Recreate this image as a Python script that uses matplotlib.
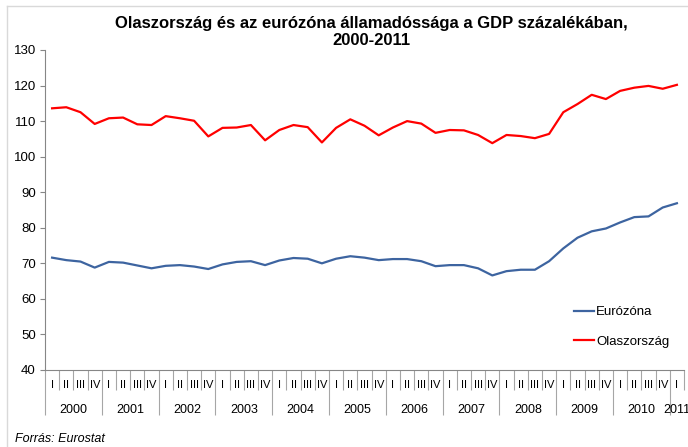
import numpy as np
import matplotlib.pyplot as plt
from matplotlib.lines import Line2D
from matplotlib.transforms import blended_transform_factory

# Államadósság a GDP százalékában, negyedévente, 2000 I - 2011 I
years = [str(y) for y in range(2000, 2012)]
quarters = ['I', 'II', 'III', 'IV']

eurozona = [71.6, 70.9, 70.5, 68.8, 70.4, 70.2, 69.4, 68.6,
            69.3, 69.5, 69.1, 68.4, 69.7, 70.4, 70.6, 69.5,
            70.8, 71.5, 71.3, 70.0, 71.3, 72.0, 71.6, 70.9,
            71.2, 71.2, 70.6, 69.2, 69.5, 69.5, 68.6, 66.6,
            67.8, 68.2, 68.2, 70.6, 74.2, 77.2, 79.0, 79.8,
            81.5, 83.0, 83.2, 85.7, 86.9]
olaszorszag = [113.6, 113.9, 112.5, 109.2, 110.8, 111.0, 109.1, 108.9,
               111.4, 110.8, 110.1, 105.7, 108.1, 108.2, 108.9, 104.6,
               107.5, 108.9, 108.3, 104.0, 108.1, 110.5, 108.7, 106.0,
               108.2, 110.0, 109.3, 106.7, 107.5, 107.4, 106.1, 103.8,
               106.1, 105.8, 105.2, 106.4, 112.5, 114.8, 117.4, 116.2,
               118.5, 119.4, 119.9, 119.1, 120.2]

plt.rcParams['font.family'] = ['Liberation Sans', 'DejaVu Sans']

fig = plt.figure(figsize=(6.88, 4.47), dpi=100)
ax = fig.add_axes([45/688, 1-370/447, 639/688, 320/447])

n = len(eurozona)
x = np.arange(n)
blue = '#3d64a0'
red = '#ff0000'
ax.plot(x, eurozona, color=blue, lw=1.6, label='Eurózóna')
ax.plot(x, olaszorszag, color=red, lw=1.6, label='Olaszország')

ax.set_xlim(-0.5, n - 0.5)
ax.set_ylim(40, 130)
ax.set_yticks(range(40, 131, 10))
ax.tick_params(axis='y', length=3.6, color='#868686', labelsize=9.5, pad=3)

# kategória tengely: negyedév- és évhatárok (hossz pontban: px * 0.72)
ax.set_xticks(np.arange(-0.5, n, 4), labels=[])
ax.set_xticks(np.arange(-0.5, n, 1), minor=True)
ax.tick_params(axis='x', which='major', length=32.4, color='#a6a6a6', width=0.8)
ax.tick_params(axis='x', which='minor', length=14.4, color='#a6a6a6', width=0.8)

for s in ['top', 'right']:
    ax.spines[s].set_visible(False)
for s in ['left', 'bottom']:
    ax.spines[s].set_color('#868686')

tr = blended_transform_factory(ax.transData, fig.transFigure)
for i in range(n):
    ax.text(i, 1-385/447, quarters[i % 4], transform=tr, ha='center', va='center',
            fontsize=8, clip_on=False)
for k, yr in enumerate(years):
    cnt = min(4, n - 4*k)
    ax.text(4*k + (cnt - 1) / 2, 1-410/447, yr, transform=tr, ha='center', va='center',
            fontsize=9, clip_on=False)

fig.text(371/688, 1-32/447, 'Olaszország és az eurózóna államadóssága a GDP százalékában,\n2000-2011',
         ha='center', va='center', fontsize=12, fontweight='bold', linespacing=1.1)

handles = [Line2D([], [], color=blue, lw=1.6), Line2D([], [], color=red, lw=1.6)]
fig.legend(handles, ['Eurózóna', 'Olaszország'], loc='center left',
           bbox_to_anchor=(562/688, 1-327/447), frameon=False, fontsize=9.5,
           handlelength=1.5, handletextpad=0.2, labelspacing=1.3)

fig.text(15/688, 1-439/447, 'Forrás: Eurostat', style='italic', fontsize=9,
         ha='left', va='center')

# diagramterület kerete
fig.add_artist(Line2D([7/688, 7/688], [0, 1-6/447], transform=fig.transFigure,
                      color='#d9d9d9', lw=1))
fig.add_artist(Line2D([7/688, 1], [1-6/447, 1-6/447], transform=fig.transFigure,
                      color='#d9d9d9', lw=1))

fig.savefig('out.png', dpi=100)
